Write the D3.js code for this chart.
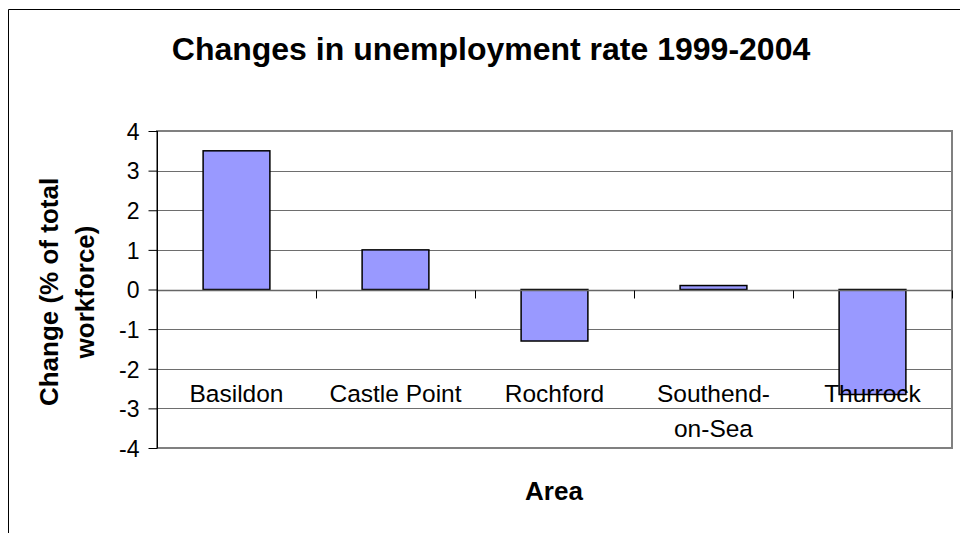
<!DOCTYPE html>
<html>
<head>
<meta charset="utf-8">
<script src="https://cdn.jsdelivr.net/npm/d3@7"></script>
<style>
  html, body { margin: 0; padding: 0; background: #fff; }
  svg { display: block; font-family: "Liberation Sans", Arial, sans-serif; }
</style>
</head>
<body>
<svg id="chart" width="960" height="533"></svg>
<script>
const categories = ["Basildon", "Castle Point", "Rochford", "Southend-on-Sea", "Thurrock"];
const categoryLines = [["Basildon"], ["Castle Point"], ["Rochford"], ["Southend-", "on-Sea"], ["Thurrock"]];
const values = [3.5, 1.0, -1.3, 0.1, -2.65];
const yTicks = [4, 3, 2, 1, 0, -1, -2, -3, -4];
const yTickLabels = ["4", "3", "2", "1", "0", "-1", "-2", "-3", "-4"];
const titleText = "Changes in unemployment rate 1999-2004";
const yTitleLines = ["Change (% of total", "workforce)"];
const xTitleText = "Area";

const svg = d3.select("#chart");
const plot = { left: 157, right: 952, top: 131, bottom: 448 };

const x = d3.scaleBand().domain(categories).range([plot.left, plot.right]).paddingInner(0.58).paddingOuter(0.29);
const xb = d3.scaleBand().domain(categories).range([plot.left, plot.right]).padding(0);
const y = d3.scaleLinear().domain([-4, 4]).range([plot.bottom, plot.top]);

// outer chart frame
svg.append("path")
  .attr("d", "M8.5,533 L8.5,9.5 L960,9.5")
  .attr("fill", "none").attr("stroke", "#000").attr("stroke-width", 1);

// gridlines
svg.append("g").selectAll("line").data(yTicks.filter(d => d !== 4 && d !== -4)).join("line")
  .attr("x1", plot.left).attr("x2", plot.right)
  .attr("y1", d => Math.round(y(d)) + 0.5).attr("y2", d => Math.round(y(d)) + 0.5)
  .attr("stroke", "#6e6e6e").attr("stroke-width", 1);

// plot border (gray)
svg.append("rect")
  .attr("x", plot.left).attr("y", plot.top)
  .attr("width", plot.right - plot.left).attr("height", plot.bottom - plot.top)
  .attr("fill", "none").attr("stroke", "#808080").attr("stroke-width", 2);

// bars
svg.append("g").selectAll("rect").data(values).join("rect")
  .attr("x", (d, i) => x(categories[i]))
  .attr("width", x.bandwidth())
  .attr("y", d => y(Math.max(0, d)))
  .attr("height", d => Math.abs(y(d) - y(0)))
  .attr("fill", "#9999FF").attr("stroke", "#000").attr("stroke-width", 1.5);

// zero (category) axis line with ticks
const zeroY = Math.round(y(0)) + 0.5;
svg.append("line").attr("x1", plot.left).attr("x2", plot.right)
  .attr("y1", zeroY).attr("y2", zeroY).attr("stroke", "#666").attr("stroke-width", 1.5);
const bounds = categories.map(c => xb(c)).concat([plot.right]);
svg.append("g").selectAll("line").data(bounds).join("line")
  .attr("x1", d => Math.round(d) + 0.5).attr("x2", d => Math.round(d) + 0.5)
  .attr("y1", zeroY).attr("y2", zeroY + 8)
  .attr("stroke", "#000").attr("stroke-width", 1);

// y axis
const yAxis = d3.axisLeft(y).tickValues(yTicks).tickSize(9).tickPadding(9)
  .tickFormat((d, i) => yTickLabels[i]);
const gy = svg.append("g").attr("transform", `translate(${plot.left + 0.5},0)`).call(yAxis);
gy.select(".domain").attr("stroke", "#000").attr("d", `M0,${plot.top}V${plot.bottom}`);
gy.selectAll(".tick line").attr("stroke", "#000");
gy.selectAll(".tick text").attr("font-size", 23).attr("fill", "#000")
  .attr("font-family", "Liberation Sans, Arial, sans-serif").attr("dy", "0.36em");

// category labels
const labG = svg.append("g");
categoryLines.forEach((lines, i) => {
  const cx = xb(categories[i]) + xb.bandwidth() / 2;
  lines.forEach((t, j) => {
    labG.append("text").attr("x", cx).attr("y", 402 + j * 35)
      .attr("text-anchor", "middle").attr("font-size", 24.5).attr("fill", "#000").text(t);
  });
});

// title
svg.append("text").attr("x", 491).attr("y", 60).attr("text-anchor", "middle")
  .attr("font-size", 32).attr("font-weight", "bold").text(titleText);

// x title
svg.append("text").attr("x", 554).attr("y", 500).attr("text-anchor", "middle")
  .attr("font-size", 26).attr("font-weight", "bold").text(xTitleText);

// y title
yTitleLines.forEach((t, j) => {
  svg.append("text").attr("transform", `translate(${58 + j * 36},292) rotate(-90)`)
    .attr("text-anchor", "middle").attr("font-size", 26).attr("font-weight", "bold").text(t);
});
</script>
</body>
</html>
